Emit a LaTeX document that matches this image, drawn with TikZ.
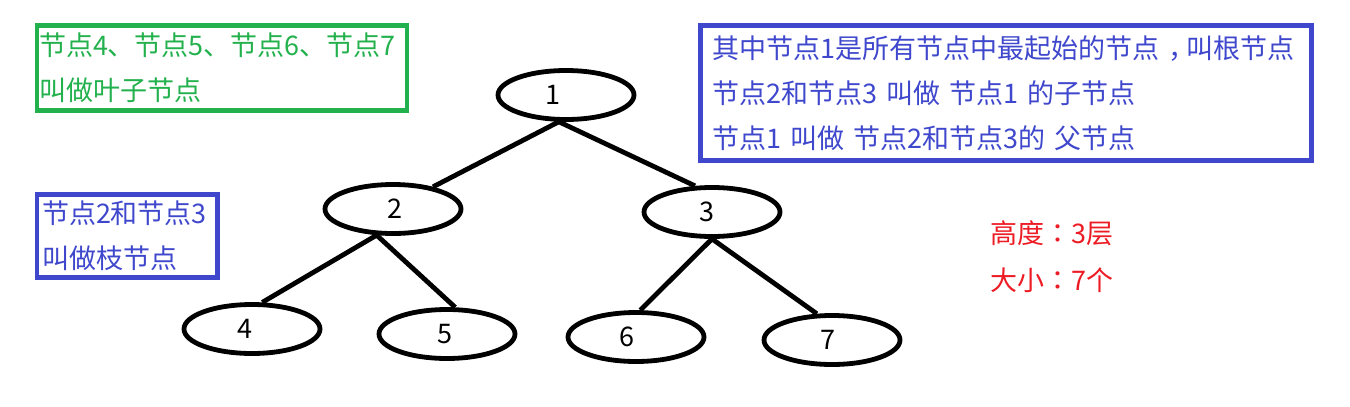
\documentclass[tikz,border=0pt]{standalone}
\usepackage{fontspec}
\setmainfont{Noto Sans CJK SC}
\newfontfamily\tcpunct{Noto Sans CJK TC}
\usetikzlibrary{shapes.geometric}
\definecolor{pgreen}{RGB}{34,177,76}
\definecolor{pblue}{RGB}{63,72,204}
\definecolor{pred}{RGB}{237,28,36}
\newcommand\shiftlab[2]{\makebox[0pt]{\kern#1\kern#1#2}}
\newcommand\midcomma{\makebox[1em][l]{\hspace{0.35em}，}}
\begin{document}
\begin{tikzpicture}[x=1pt,y=-1pt,
  tn/.style={ellipse,draw=black,line width=4.8pt,minimum width=136pt,minimum height=49pt,inner sep=0pt,font=\fontsize{27}{27}\selectfont},
  edge/.style={line width=4.8pt,black},
  note/.style={draw,line width=4.5pt,align=left,inner ysep=0pt,font=\fontsize{27}{45}\selectfont},
  plain/.style={align=left,inner sep=0pt,font=\fontsize{27}{47}\selectfont},
]
\useasboundingbox (0,0) rectangle (1350,407);

% tree nodes
\node[tn] (n1) at (566,95) {\shiftlab{-13pt}{1}};
\node[tn] (n2) at (393,209) {\shiftlab{2pt}{2}};
\node[tn] (n3) at (712,212) {\shiftlab{-5pt}{3}};
\node[tn] (n4) at (252,329) {\shiftlab{-7pt}{4}};
\node[tn] (n5) at (447,334) {\shiftlab{-2pt}{5}};
\node[tn] (n6) at (636,337) {\shiftlab{-9pt}{6}};
\node[tn] (n7) at (832,340) {\shiftlab{-4pt}{7}};

% connectors
\draw[edge] (n1.255) -- (n2.29);
\draw[edge] (n1.255) -- (n3.123);
\draw[edge] (n2.238) -- (n4.69);
\draw[edge] (n2.238) -- (n5.73);
\draw[edge] (n3.south) -- (n6.81);
\draw[edge] (n3.south) -- (n7.120);

% notes
\node[note,draw=pgreen,text=pgreen,minimum width=370pt,minimum height=85pt,
      text width=366pt,inner xsep=2pt] (leaf) at (222,68)
  {节点4、节点5、节点6、节点7\\叫做叶子节点};
\node[note,draw=pblue,text=pblue,minimum width=611pt,minimum height=135pt,
      text width=587pt,inner xsep=12pt] (root) at (1006,93)
  {其中节点1是所有节点中最起始的节点\midcomma 叫根节点\\节点2和节点3 叫做 节点1 的子节点\\节点1 叫做 节点2和节点3的 父节点};
\node[note,draw=pblue,text=pblue,minimum width=180.5pt,minimum height=83pt,
      text width=170pt,inner xsep=5.25pt] (branch) at (127,236)
  {节点2和节点3\\叫做枝节点};
\node[plain,text=pred,anchor=west] (size) at (990,256.5)
  {高度{\tcpunct ：}3层\\大小{\tcpunct ：}7个};
\end{tikzpicture}
\end{document}
